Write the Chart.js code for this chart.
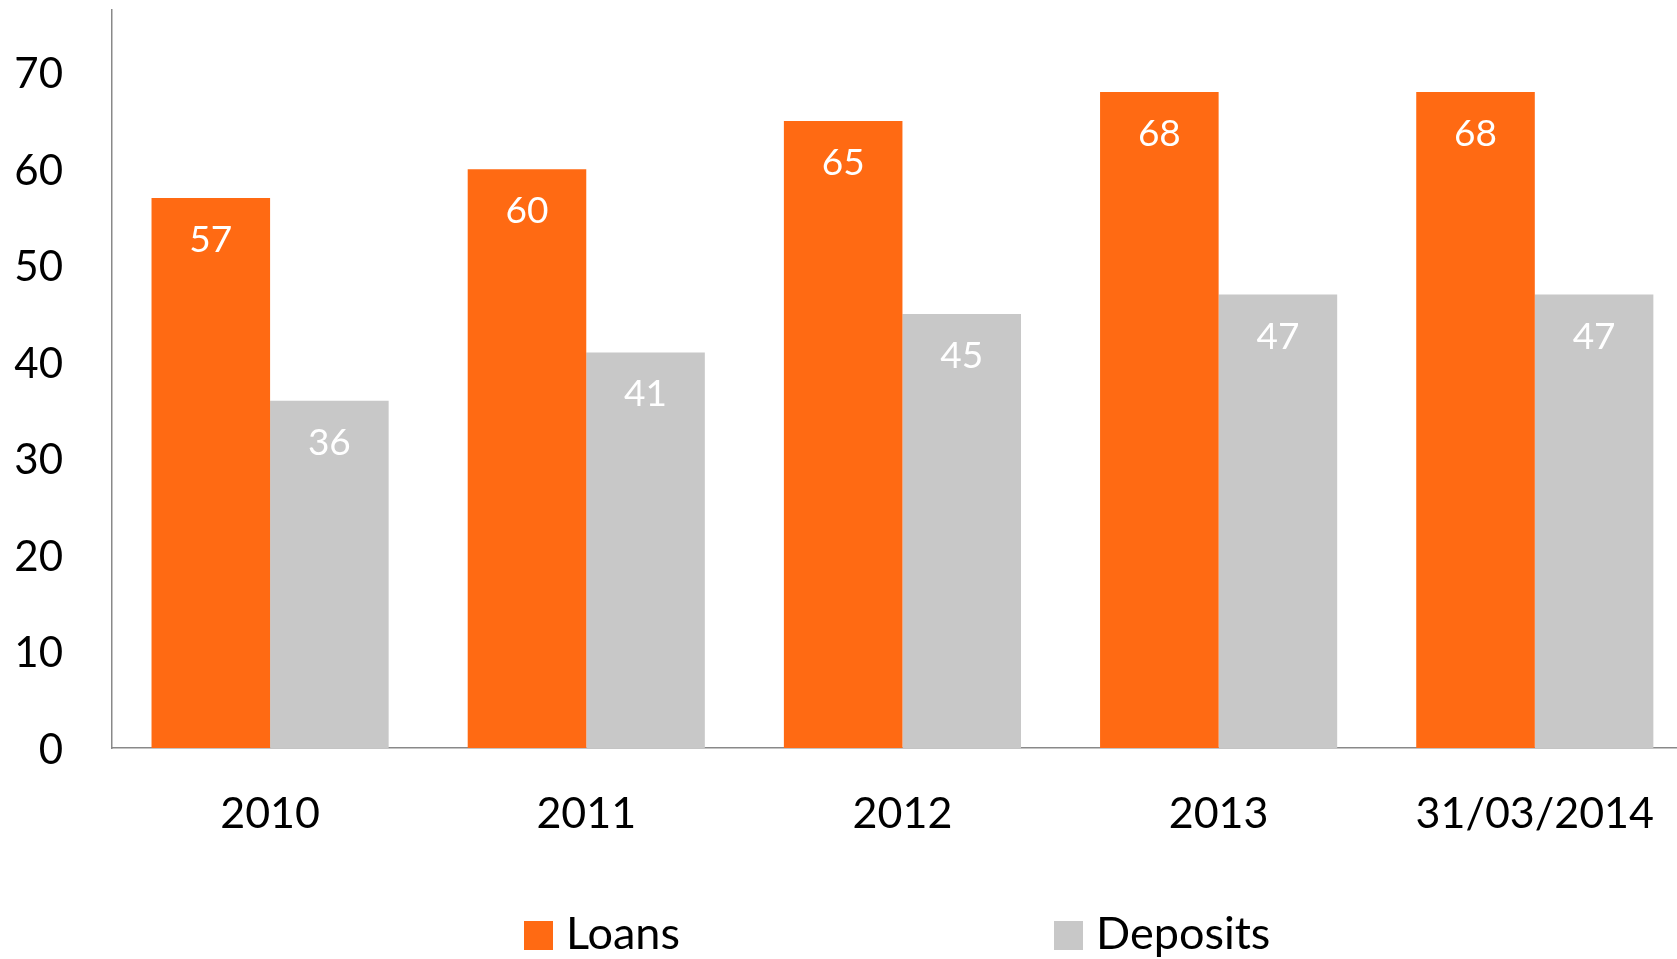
<!DOCTYPE html>
<html>
<head>
<meta charset="utf-8">
<title>Loans and Deposits</title>
<script src="https://cdn.jsdelivr.net/npm/chart.js@4.4.1/dist/chart.umd.min.js"></script>
<style>
  html, body { margin: 0; padding: 0; background: #ffffff; overflow: hidden; }
  #wrap { position: relative; width: 1694px; height: 959px; }
</style>
</head>
<body>
<div id="wrap"><canvas id="chart"></canvas></div>
<script>
// Chart data
const categories = ['2010', '2011', '2012', '2013', '31/03/2014'];
const loans = [57, 60, 65, 68, 68];
const deposits = [36, 41, 45, 47, 47];
const yTicks = [0, 10, 20, 30, 40, 50, 60, 70];

const FONT = "Lato, 'Open Sans', sans-serif";
const ORANGE = '#FF6A13';
const GREY = '#C8C8C8';
const AXIS = '#898989';

// Writes each bar's value in white just below its top edge
const barValues = {
  id: 'barValues',
  afterDatasetsDraw(chart, args, opts) {
    const ctx = chart.ctx;
    ctx.save();
    ctx.font = `${opts.size}px ${FONT}`;
    ctx.fillStyle = opts.color;
    ctx.textAlign = 'center';
    ctx.textBaseline = 'middle';
    chart.data.datasets.forEach((ds, i) => {
      chart.getDatasetMeta(i).data.forEach((bar, j) => {
        ctx.fillText(String(ds.data[j]), bar.x, bar.y + opts.offset);
      });
    });
    ctx.restore();
  }
};

// Legend row under the axis: square swatch followed by the series name
const seriesKey = {
  id: 'seriesKey',
  afterDraw(chart, args, opts) {
    const ctx = chart.ctx;
    ctx.save();
    ctx.font = `${opts.size}px ${FONT}`;
    ctx.textAlign = 'left';
    ctx.textBaseline = 'alphabetic';
    chart.data.datasets.forEach((ds, i) => {
      const x = opts.itemX[i];
      ctx.fillStyle = ds.backgroundColor;
      ctx.fillRect(x, opts.boxTop, opts.box, opts.box);
      ctx.fillStyle = opts.color;
      ctx.fillText(ds.label, x + opts.textGap, opts.baseline);
    });
    ctx.restore();
  }
};

new Chart(document.getElementById('chart'), {
  type: 'bar',
  data: {
    labels: categories,
    datasets: [
      { label: 'Loans', data: loans, backgroundColor: ORANGE, borderWidth: 0 },
      { label: 'Deposits', data: deposits, backgroundColor: GREY, borderWidth: 0 }
    ]
  },
  options: {
    responsive: true,
    maintainAspectRatio: false,
    animation: false,
    layout: { padding: { top: 10, left: 0, right: 0, bottom: 91 } },
    datasets: { bar: { categoryPercentage: 0.75, barPercentage: 1.0 } },
    plugins: {
      legend: { display: false },
      tooltip: { enabled: false },
      barValues: { size: 37, color: '#ffffff', offset: 42 },
      seriesKey: { size: 45, color: '#000000', itemX: [524, 1054], boxTop: 921, box: 29, textGap: 42, baseline: 949 }
    },
    scales: {
      x: {
        grid: { display: false, drawTicks: false },
        border: { display: true, color: AXIS, width: 1.5 },
        ticks: { color: '#000000', font: { family: FONT, size: 43 }, padding: 40, maxRotation: 0, autoSkip: false },
        afterFit(scale) { scale.height = 120; }
      },
      y: {
        min: 0,
        max: 76.5,
        grid: { display: false, drawTicks: false },
        border: { display: true, color: AXIS, width: 1.5 },
        ticks: { color: '#000000', font: { family: FONT, size: 42 }, padding: 49, labelOffset: 2 },
        afterBuildTicks(scale) { scale.ticks = yTicks.map(v => ({ value: v })); },
        afterFit(scale) { scale.width = 112; scale.paddingTop = 0; scale.paddingBottom = 0; }
      }
    }
  },
  plugins: [barValues, seriesKey]
});
</script>
</body>
</html>
